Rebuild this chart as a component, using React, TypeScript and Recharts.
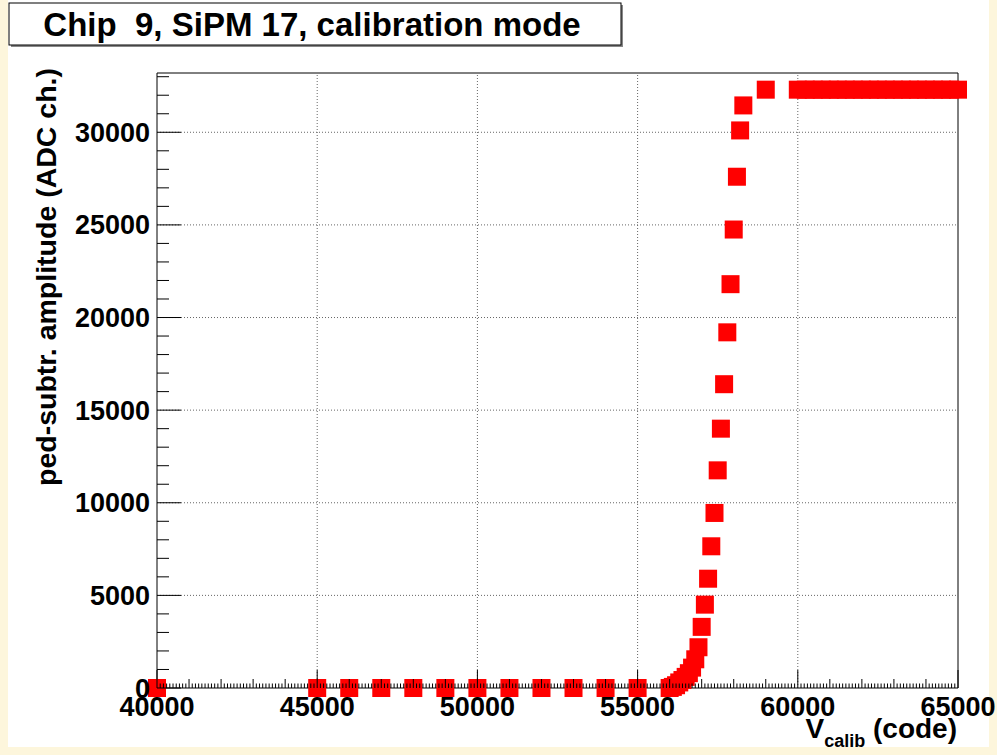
import React from "react";
import { ScatterChart, Scatter, XAxis, YAxis, ReferenceLine, ReferenceArea } from "recharts";

// V_calib (code) values of each measured point
const vcalib = [
  40000, 45000, 46000, 47000, 48000, 49000, 50000, 51000, 52000, 53000, 54000, 55000,
  56000, 56100, 56200, 56300, 56400, 56500, 56600, 56700, 56800, 56900, 57000, 57100,
  57200, 57300, 57400, 57500, 57600, 57700, 57800, 57900, 58000, 58100, 58200, 58300,
  59000,
  60000, 60250, 60500, 60750, 61000, 61250, 61500, 61750, 62000, 62250, 62500, 62750,
  63000, 63250, 63500, 63750, 64000, 64250, 64500, 64750, 65000,
];

// pedestal-subtracted amplitude (ADC ch.)
const amplitude = [
  0, 0, 0, 0, 0, 0, 0, 0, 0, 0, 0, 0,
  0, 60, 150, 300, 430, 600, 800, 1100, 1550, 2200, 3300, 4500,
  5900, 7650, 9450, 11750, 14000, 16400, 19200, 21800, 24750, 27600, 30100, 31450,
  32300,
  32300, 32300, 32300, 32300, 32300, 32300, 32300, 32300, 32300, 32300, 32300, 32300,
  32300, 32300, 32300, 32300, 32300, 32300, 32300, 32300, 32300,
];

const xMajorTicks = [40000, 45000, 50000, 55000, 60000, 65000];
const xTickLabels = ["40000", "45000", "50000", "55000", "60000", "65000"];
const yMajorTicks = [0, 5000, 10000, 15000, 20000, 25000, 30000];
const yTickLabels = ["0", "5000", "10000", "15000", "20000", "25000", "30000"];
const xGridValues = [45000, 50000, 55000, 60000];
const yGridValues = [5000, 10000, 15000, 20000, 25000, 30000];

const X_MIN = 40000;
const X_MAX = 65000;
const Y_MIN = 0;
const Y_MAX = 33200;

const xMinorTicks: number[] = [];
for (let v = X_MIN; v <= X_MAX; v += 100) xMinorTicks.push(v);
const yMinorTicks: number[] = [];
for (let v = 0; v <= 33000; v += 1000) yMinorTicks.push(v);

const data = vcalib.map((v, i) => ({ x: v, y: amplitude[i] }));

const FONT = "'Liberation Sans', Arial, Helvetica, sans-serif";
const CREAM = "#fdf6dc";

const XTick = (props: any) => {
  const { x, y, payload } = props;
  const v = payload.value;
  const idx = xMajorTicks.indexOf(v);
  let len = 4.5;
  if (idx >= 0) len = 18;
  else if (v % 1000 === 0) len = 9;
  return (
    <g>
      <line x1={x} y1={y} x2={x} y2={y - len} stroke="#000" strokeWidth={1} />
      {idx >= 0 && (
        <text x={x} y={y + 28} textAnchor="middle" fontFamily={FONT} fontWeight="bold" fontSize={27} fill="#000">
          {xTickLabels[idx]}
        </text>
      )}
    </g>
  );
};

const YTick = (props: any) => {
  const { x, y, payload } = props;
  const v = payload.value;
  const idx = yMajorTicks.indexOf(v);
  const len = idx >= 0 ? 24 : 12;
  return (
    <g>
      <line x1={x} y1={y} x2={x + len} y2={y} stroke="#000" strokeWidth={1} />
      {idx >= 0 && (
        <text x={x - 7} y={y + 9.5} textAnchor="end" fontFamily={FONT} fontWeight="bold" fontSize={27} fill="#000">
          {yTickLabels[idx]}
        </text>
      )}
    </g>
  );
};

const Marker = (props: any) => {
  const { cx, cy } = props;
  if (cx == null || cy == null) return null;
  return <rect x={cx - 9} y={cy - 9} width={18} height={18} fill="#ff0000" />;
};

export default function App() {
  return (
    <div style={{ position: "absolute", left: 0, top: 0, width: 997, height: 755, background: CREAM, overflow: "hidden" }}>
      <div style={{ position: "absolute", left: 8, top: 0, width: 981, height: 747, background: "#fff" }} />
      <div style={{ position: "absolute", left: 0, top: 0 }}>
        <ScatterChart
          width={997}
          height={755}
          margin={{ top: 73, right: 39, bottom: 66, left: 156 }}
        >
          <XAxis
            type="number"
            dataKey="x"
            domain={[X_MIN, X_MAX]}
            ticks={xMinorTicks}
            interval={0}
            height={1}
            tickSize={0}
            tickMargin={0}
            tickLine={false}
            axisLine={false}
            tick={<XTick />}
          />
          <YAxis
            type="number"
            dataKey="y"
            domain={[Y_MIN, Y_MAX]}
            ticks={yMinorTicks}
            interval={0}
            width={1}
            tickSize={0}
            tickMargin={0}
            tickLine={false}
            axisLine={false}
            tick={<YTick />}
          />
          {xGridValues.map((v) => (
            <ReferenceLine key={"gx" + v} x={v} stroke="#666" strokeDasharray="1 2" strokeWidth={1} />
          ))}
          {yGridValues.map((v) => (
            <ReferenceLine key={"gy" + v} y={v} stroke="#666" strokeDasharray="1 2" strokeWidth={1} />
          ))}
          <ReferenceArea x1={X_MIN} x2={X_MAX} y1={Y_MIN} y2={Y_MAX} fill="none" stroke="#000" strokeWidth={1} />
          <Scatter data={data} shape={<Marker />} isAnimationActive={false} />
        </ScatterChart>
      </div>
      <svg width={997} height={755} style={{ position: "absolute", left: 0, top: 0, pointerEvents: "none" }}>
        <rect x={11} y={5} width={612} height={42} fill="#888" />
        <rect x={9} y={3} width={612} height={42} fill="#fff" stroke="#000" strokeWidth={1} />
        <text x={312} y={36} textAnchor="middle" fontFamily={FONT} fontWeight="bold" fontSize={33} fill="#000" style={{ whiteSpace: "pre" }}>
          {"Chip  9, SiPM 17, calibration mode"}
        </text>
        <text
          transform="translate(56, 68) rotate(-90)"
          textAnchor="end"
          fontFamily={FONT}
          fontWeight="bold"
          fontSize={28.5}
          fill="#000"
          style={{ whiteSpace: "pre" }}
        >
          ped-subtr. amplitude (ADC ch.)
        </text>
        <text x={957} y={738} textAnchor="end" fontFamily={FONT} fontWeight="bold" fontSize={28} fill="#000">
          V
          <tspan fontSize={18} dy={9}>calib</tspan>
          <tspan dy={-9}> (code)</tspan>
        </text>
      </svg>
    </div>
  );
}
